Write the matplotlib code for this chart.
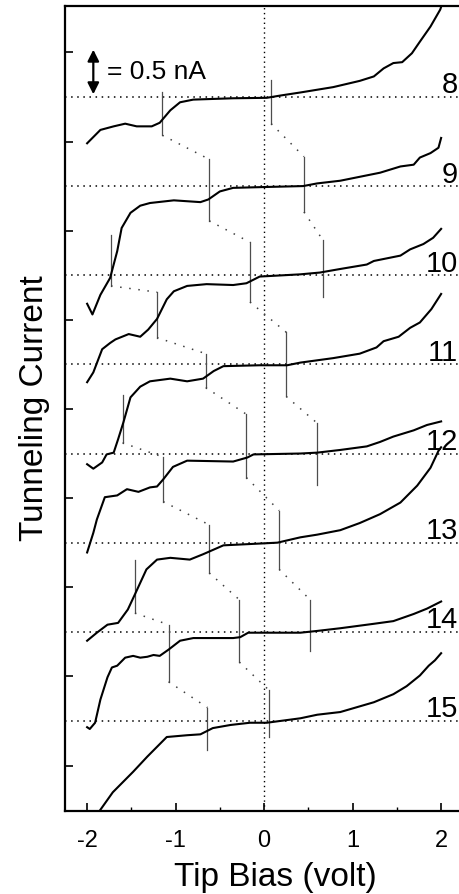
import matplotlib
matplotlib.use('Agg')
import matplotlib.pyplot as plt
import numpy as np

plt.rcParams['font.family'] = ['Liberation Sans', 'DejaVu Sans']
plt.rcParams['axes.unicode_minus'] = False

# I-V curves (tip bias in V, current in nA relative to each curve's own baseline)
curve_8 = [(-2.00, -0.52), (-1.85, -0.37), (-1.70, -0.33), (-1.57, -0.30), (-1.44, -0.33),
           (-1.27, -0.33), (-1.18, -0.29), (-1.06, -0.15), (-0.95, -0.06), (-0.80, -0.03),
           (-0.35, -0.015), (0.03, -0.01), (0.18, 0.015), (0.41, 0.05), (0.78, 0.11),
           (1.08, 0.18), (1.24, 0.23), (1.35, 0.32), (1.46, 0.38), (1.56, 0.39),
           (1.67, 0.49), (1.76, 0.62), (1.88, 0.79), (1.99, 0.98), (2.00, 1.01)]
curve_9 = [(-2.00, -1.32), (-1.94, -1.44), (-1.85, -1.22), (-1.74, -1.03), (-1.66, -0.73),
           (-1.61, -0.47), (-1.51, -0.30), (-1.40, -0.22), (-1.29, -0.19), (-1.02, -0.16),
           (-0.72, -0.18), (-0.63, -0.15), (-0.50, -0.06), (-0.35, -0.02), (0.03, -0.01),
           (0.44, 0.00), (0.60, 0.03), (0.86, 0.06), (1.31, 0.15), (1.54, 0.22),
           (1.69, 0.24), (1.76, 0.32), (1.88, 0.37), (1.97, 0.43), (2.00, 0.54)]
curve_10 = [(-2.00, -1.20), (-1.93, -1.09), (-1.83, -0.83), (-1.74, -0.76), (-1.68, -0.72),
            (-1.53, -0.66), (-1.40, -0.69), (-1.31, -0.61), (-1.21, -0.49), (-1.10, -0.27),
            (-1.02, -0.18), (-0.87, -0.12), (-0.65, -0.10), (-0.35, -0.11), (-0.20, -0.09),
            (-0.05, -0.015), (0.41, 0.01), (0.63, 0.03), (0.86, 0.07), (1.16, 0.12),
            (1.24, 0.16), (1.54, 0.22), (1.65, 0.29), (1.80, 0.35), (1.91, 0.42), (2.00, 0.52)]
curve_11 = [(-2.00, -1.12), (-1.93, -1.17), (-1.83, -1.10), (-1.78, -1.01), (-1.70, -0.99),
            (-1.65, -0.84), (-1.59, -0.65), (-1.51, -0.37), (-1.40, -0.25), (-1.29, -0.19),
            (-1.06, -0.16), (-0.87, -0.19), (-0.69, -0.16), (-0.57, -0.075), (-0.46, -0.02),
            (-0.05, -0.01), (0.26, -0.01), (0.41, 0.02), (0.78, 0.07), (1.08, 0.12),
            (1.27, 0.19), (1.35, 0.26), (1.52, 0.31), (1.65, 0.41), (1.76, 0.47),
            (1.89, 0.62), (2.00, 0.79)]
curve_12 = [(-2.00, -1.11), (-1.93, -0.89), (-1.89, -0.74), (-1.80, -0.49), (-1.66, -0.47),
            (-1.55, -0.40), (-1.42, -0.43), (-1.29, -0.38), (-1.21, -0.37), (-1.14, -0.29),
            (-1.03, -0.15), (-0.87, -0.08), (-0.35, -0.09), (-0.19, -0.045), (-0.12, -0.01),
            (0.41, 0.00), (0.60, 0.01), (0.86, 0.04), (1.16, 0.08), (1.31, 0.13),
            (1.46, 0.19), (1.69, 0.26), (1.84, 0.32), (2.00, 0.36)]
curve_13 = [(-2.00, -1.10), (-1.89, -1.01), (-1.77, -0.92), (-1.65, -0.90), (-1.54, -0.75),
            (-1.46, -0.58), (-1.33, -0.30), (-1.21, -0.19), (-1.06, -0.17), (-0.84, -0.19),
            (-0.69, -0.13), (-0.46, -0.03), (-0.05, -0.01), (0.15, 0.00), (0.41, 0.06),
            (0.60, 0.09), (0.86, 0.14), (1.08, 0.22), (1.31, 0.32), (1.54, 0.45),
            (1.73, 0.64), (1.88, 0.84), (1.97, 1.03), (2.00, 1.07)]
curve_14 = [(-2.00, -1.07), (-1.97, -1.09), (-1.91, -1.02), (-1.85, -0.76), (-1.77, -0.51),
            (-1.72, -0.40), (-1.66, -0.38), (-1.57, -0.29), (-1.48, -0.27), (-1.40, -0.29),
            (-1.32, -0.28), (-1.25, -0.26), (-1.18, -0.27), (-1.08, -0.20), (-0.95, -0.10),
            (-0.80, -0.07), (-0.35, -0.07), (-0.27, -0.06), (-0.18, -0.01), (0.41, -0.01),
            (0.60, 0.01), (0.86, 0.04), (1.24, 0.09), (1.46, 0.12), (1.69, 0.20),
            (1.84, 0.26), (2.00, 0.34)]
curve_15 = [(-1.86, -1.01), (-1.71, -0.80), (-1.48, -0.57), (-1.32, -0.40), (-1.21, -0.29),
            (-1.10, -0.18), (-0.87, -0.16), (-0.72, -0.15), (-0.58, -0.08), (-0.38, -0.045),
            (-0.16, -0.02), (0.03, -0.02), (0.41, 0.03), (0.60, 0.07), (0.86, 0.10),
            (1.24, 0.21), (1.46, 0.30), (1.61, 0.39), (1.76, 0.51), (1.86, 0.62),
            (1.93, 0.68), (2.00, 0.76)]

curve_ids = [8, 9, 10, 11, 12, 13, 14, 15]
curves = [curve_8, curve_9, curve_10, curve_11, curve_12, curve_13, curve_14, curve_15]

# peak markers: (bias, top, bottom) in nA relative to the curve baseline
markers = {
    8: [(-1.15, 0.05, -0.43), (0.08, 0.19, -0.30)],
    9: [(-1.73, -0.55, -1.12), (-0.62, 0.30, -0.39), (0.45, 0.33, -0.29)],
    10: [(-1.21, -0.19, -0.70), (-0.16, 0.37, -0.30), (0.66, 0.40, -0.24)],
    11: [(-1.60, -0.34, -0.88), (-0.66, 0.12, -0.26), (0.25, 0.36, -0.36)],
    12: [(-1.14, -0.04, -0.54), (-0.20, 0.44, -0.27), (0.60, 0.34, -0.35)],
    13: [(-1.46, -0.19, -0.79), (-0.62, 0.20, -0.34), (0.17, 0.36, -0.30)],
    14: [(-1.08, 0.08, -0.56), (-0.28, 0.36, -0.34), (0.52, 0.36, -0.22)],
    15: [(-0.64, 0.15, -0.33), (0.05, 0.35, -0.18)],
}
# which markers are joined by dotted lines: (curve, marker index)
chains = [
    [(8, 0), (9, 1), (10, 1), (11, 2), (12, 2)],
    [(8, 1), (9, 2), (10, 2)],
    [(9, 0), (10, 0), (11, 1), (12, 1), (13, 2), (14, 2)],
    [(11, 0), (12, 0), (13, 1), (14, 1), (15, 1)],
    [(13, 0), (14, 0), (15, 0)],
]

xticks = [-2, -1, 0, 1, 2]
xtick_labels = ['-2', '-1', '0', '1', '2']
scale_bar = 0.5  # nA


def offset(n):
    return 15 - n


fig = plt.figure(figsize=(4.59, 8.94), dpi=100)
ax = fig.add_axes([65 / 459, 83 / 894, 4.75 * 88.5 / 459, 805 / 894])
ax.set_xlim(-2.25, 2.5)
ax.set_ylim(-1.01, 8.02)

for n in curve_ids:
    ax.axhline(offset(n), color='k', lw=1.1, ls=(0, (1, 3)), zorder=1)
ax.axvline(0, color='k', lw=1.0, ls=(0, (1, 2.5)), zorder=1)

for n, c in zip(curve_ids, curves):
    v = np.array([p[0] for p in c])
    i = np.array([p[1] for p in c])
    ax.plot(v, i + offset(n), color='k', lw=1.5, zorder=3)
    ax.text(2.19, offset(n) + 0.04, str(n), ha='right', va='baseline', fontsize=21)

for n, mk in markers.items():
    for v, top, bot in mk:
        ax.plot([v, v], [top + offset(n), bot + offset(n)], color='0.3', lw=0.9, zorder=2)

for ch in chains:
    for (n1, k1), (n2, k2) in zip(ch[:-1], ch[1:]):
        v1, _, b1 = markers[n1][k1]
        v2, t2, _ = markers[n2][k2]
        ax.plot([v1, v2], [b1 + offset(n1), t2 + offset(n2)], color='0.25', lw=1.1,
                ls=(0, (1, 5)), zorder=2)

# scale bar
ax.annotate('', xy=(-1.93, 7.03), xytext=(-1.93, 7.03 + scale_bar),
            arrowprops=dict(arrowstyle='<|-|>', color='k', lw=1.6, mutation_scale=17,
                            shrinkA=0, shrinkB=0))
ax.text(-1.78, 7.28, '= 0.5 nA', fontsize=19, va='center', ha='left')

ax.set_xticks(xticks)
ax.set_xticklabels(xtick_labels, fontsize=17)
ax.set_xticks(np.arange(-2, 2.6, 0.5), minor=True)
ax.set_yticks(np.arange(-0.5, 8, 1.0))
ax.tick_params(axis='both', which='major', direction='in', length=6, width=1.2, pad=14)
ax.tick_params(axis='x', which='minor', direction='in', length=3, width=1.0)
ax.tick_params(axis='y', labelleft=False)
for s in ax.spines.values():
    s.set_linewidth(1.6)

ax.set_xlabel('Tip Bias (volt)', fontsize=24, labelpad=7)
ax.set_ylabel('Tunneling Current', fontsize=24, labelpad=11)

plt.savefig('out.png', dpi=100)
